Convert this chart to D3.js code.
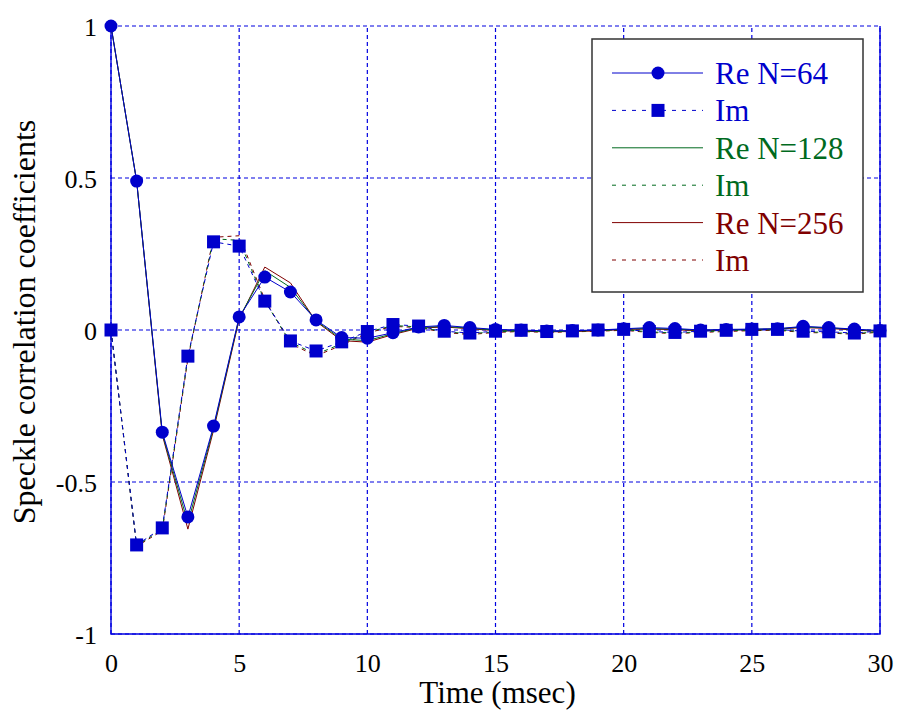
<!DOCTYPE html>
<html>
<head>
<meta charset="utf-8">
<script src="https://cdn.jsdelivr.net/npm/d3@7"></script>
<style>
  html, body { margin: 0; padding: 0; background: #fff; }
  svg { display: block; }
  text { font-family: "Liberation Serif", "Times New Roman", serif; }
</style>
</head>
<body>
<svg id="chart" width="901" height="717"></svg>
<script>
// ---------- data ----------
const time = [0,1,2,3,4,5,6,7,8,9,10,11,12,13,14,15,16,17,18,19,20,21,22,23,24,25,26,27,28,29,30];

const reN64  = [1, 0.49, -0.336, -0.615, -0.316, 0.043, 0.174, 0.125, 0.033, -0.025, -0.027, -0.009, 0.01, 0.015, 0.008, 0.002, 0.0, -0.003, -0.002, 0.0, 0.004, 0.008, 0.005, 0.0, 0.002, 0.003, 0.004, 0.012, 0.008, 0.003, -0.002];
const imN64  = [0, -0.707, -0.651, -0.086, 0.29, 0.276, 0.095, -0.036, -0.069, -0.039, -0.005, 0.018, 0.013, -0.004, -0.01, -0.004, -0.001, -0.005, -0.003, 0.0, 0.002, -0.005, -0.008, -0.004, -0.001, 0.002, 0.002, -0.004, -0.006, -0.01, -0.003];
const reN128 = [1, 0.49, -0.34, -0.635, -0.322, 0.04, 0.195, 0.14, 0.03, -0.03, -0.035, -0.012, 0.008, 0.012, 0.006, 0.0, -0.002, -0.004, -0.003, -0.001, 0.003, 0.005, 0.003, -0.001, 0.001, 0.002, 0.004, 0.01, 0.007, 0.002, -0.003];
const imN128 = [0, -0.71, -0.655, -0.09, 0.3, 0.295, 0.095, -0.04, -0.08, -0.045, -0.008, 0.015, 0.01, -0.006, -0.012, -0.006, -0.003, -0.006, -0.004, -0.002, 0.001, -0.006, -0.01, -0.006, -0.003, 0.0, 0.001, -0.006, -0.008, -0.012, -0.005];
const reN256 = [1, 0.49, -0.345, -0.655, -0.33, 0.035, 0.207, 0.155, 0.028, -0.035, -0.04, -0.015, 0.006, 0.01, 0.004, -0.002, -0.004, -0.006, -0.005, -0.003, 0.002, 0.003, 0.001, -0.003, 0.0, 0.001, 0.003, 0.008, 0.005, 0.0, -0.005];
const imN256 = [0, -0.712, -0.66, -0.095, 0.305, 0.31, 0.1, -0.045, -0.085, -0.05, -0.01, 0.012, 0.008, -0.008, -0.015, -0.008, -0.005, -0.008, -0.006, -0.004, -0.001, -0.008, -0.012, -0.008, -0.005, -0.002, -0.001, -0.008, -0.01, -0.014, -0.007];

const xTicks = [0, 5, 10, 15, 20, 25, 30];
const yTicks = [-1, -0.5, 0, 0.5, 1];
const yTickLabels = ["-1", "-0.5", "0", "0.5", "1"];

const legendLabels = ["Re N=64", "Im", "Re N=128", "Im", "Re N=256", "Im"];

// ---------- styles ----------
const BLUE = "#0000CC", GRIDBLUE = "#0000E0", GREEN = "#006a1e", RED = "#800000";
const series = [
  {name: "Re N=256", values: reN256, color: RED,   dash: null,  marker: null},
  {name: "Im N=256", values: imN256, color: RED,   dash: "4,4", marker: null},
  {name: "Re N=128", values: reN128, color: GREEN, dash: null,  marker: null},
  {name: "Im N=128", values: imN128, color: GREEN, dash: "4,4", marker: null},
  {name: "Re N=64",  values: reN64,  color: BLUE,  dash: null,  marker: "circle"},
  {name: "Im N=64",  values: imN64,  color: BLUE,  dash: "4,4", marker: "square"}
];

// ---------- chart ----------
const svg = d3.select("#chart");
const x = d3.scaleLinear().domain([0, 30]).range([111, 880]);
const y = d3.scaleLinear().domain([-1, 1]).range([634, 26]);

// grid
const grid = svg.append("g").attr("class", "grid");
grid.selectAll(".vx").data(xTicks).enter().append("line").attr("class", "vx")
  .attr("x1", d => x(d)).attr("x2", d => x(d))
  .attr("y1", y(-1)).attr("y2", y(1))
  .style("stroke", GRIDBLUE).style("stroke-width", "1.2px").style("stroke-dasharray", "4,3");
grid.selectAll(".hy").data(yTicks).enter().append("line").attr("class", "hy")
  .attr("y1", d => y(d)).attr("y2", d => y(d))
  .attr("x1", x(0)).attr("x2", x(30))
  .style("stroke", GRIDBLUE).style("stroke-width", "1.2px").style("stroke-dasharray", "4,3");

// frame (left, bottom, right solid)
svg.append("path")
  .attr("d", `M${x(0)},${y(1)}V${y(-1)}H${x(30)}V${y(1)}`)
  .style("fill", "none").style("stroke", GRIDBLUE).style("stroke-width", "1.4px");

// axes via d3 axis for tick labels
const xAxis = d3.axisBottom(x).tickValues(xTicks).tickSize(0).tickPadding(0).tickFormat(d3.format("d"));
const gx = svg.append("g").attr("transform", `translate(0,${y(-1)})`).call(xAxis);
gx.select(".domain").remove();
gx.selectAll("text").attr("font-size", 26).attr("fill", "#000").attr("dy", "1.45em");

const yAxis = d3.axisLeft(y).tickValues(yTicks).tickSize(0).tickPadding(14)
  .tickFormat((d, i) => yTickLabels[i]);
const gy = svg.append("g").attr("transform", `translate(${x(0)},0)`).call(yAxis);
gy.select(".domain").remove();
gy.selectAll("text").attr("font-size", 26).attr("fill", "#000").attr("dy", "0.35em");

// axis titles
svg.append("text").attr("x", (x(0) + x(30)) / 2 + 2).attr("y", 703)
  .attr("text-anchor", "middle").attr("font-size", 31).attr("fill", "#000")
  .text("Time (msec)");
svg.append("text")
  .attr("transform", `translate(35,${(y(1) + y(-1)) / 2 - 8}) rotate(-90)`)
  .attr("text-anchor", "middle").attr("font-size", 32).attr("fill", "#000")
  .text("Speckle correlation coefficients");

// lines
const line = d3.line().x((d, i) => x(time[i])).y(d => y(d));
const plot = svg.append("g");
series.forEach(s => {
  plot.append("path").datum(s.values)
    .attr("d", line).attr("fill", "none")
    .attr("stroke", s.color).attr("stroke-width", 1)
    .attr("stroke-dasharray", s.dash);
});
// markers
series.filter(s => s.marker).forEach(s => {
  const g = plot.append("g");
  if (s.marker === "circle") {
    g.selectAll("circle").data(s.values).join("circle")
      .attr("cx", (d, i) => x(time[i])).attr("cy", d => y(d)).attr("r", 6.5)
      .attr("fill", s.color);
  } else {
    g.selectAll("rect").data(s.values).join("rect")
      .attr("x", (d, i) => x(time[i]) - 6.5).attr("y", d => y(d) - 6.5)
      .attr("width", 13).attr("height", 13).attr("fill", s.color);
  }
});

// legend
const legendSeries = [series[4], series[5], series[2], series[3], series[0], series[1]];
const lg = svg.append("g");
lg.append("rect").attr("x", 592).attr("y", 39).attr("width", 271).attr("height", 253)
  .attr("fill", "#fff").attr("stroke", "#333").attr("stroke-width", 1.5);
const rowY = d3.scaleLinear().domain([0, 5]).range([73, 260]);
legendSeries.forEach((s, i) => {
  const cy = rowY(i);
  lg.append("line").attr("x1", 612).attr("x2", 703).attr("y1", cy).attr("y2", cy)
    .attr("stroke", s.color).attr("stroke-width", 1).attr("stroke-dasharray", s.dash ? "4,6" : null);
  if (s.marker === "circle") {
    lg.append("circle").attr("cx", 658).attr("cy", cy).attr("r", 6.5).attr("fill", s.color);
  } else if (s.marker === "square") {
    lg.append("rect").attr("x", 658 - 6.5).attr("y", cy - 6.5).attr("width", 13).attr("height", 13).attr("fill", s.color);
  }
  lg.append("text").attr("x", 715).attr("y", cy + 11).attr("font-size", 31)
    .attr("fill", s.color).text(legendLabels[i]);
});
</script>
</body>
</html>
